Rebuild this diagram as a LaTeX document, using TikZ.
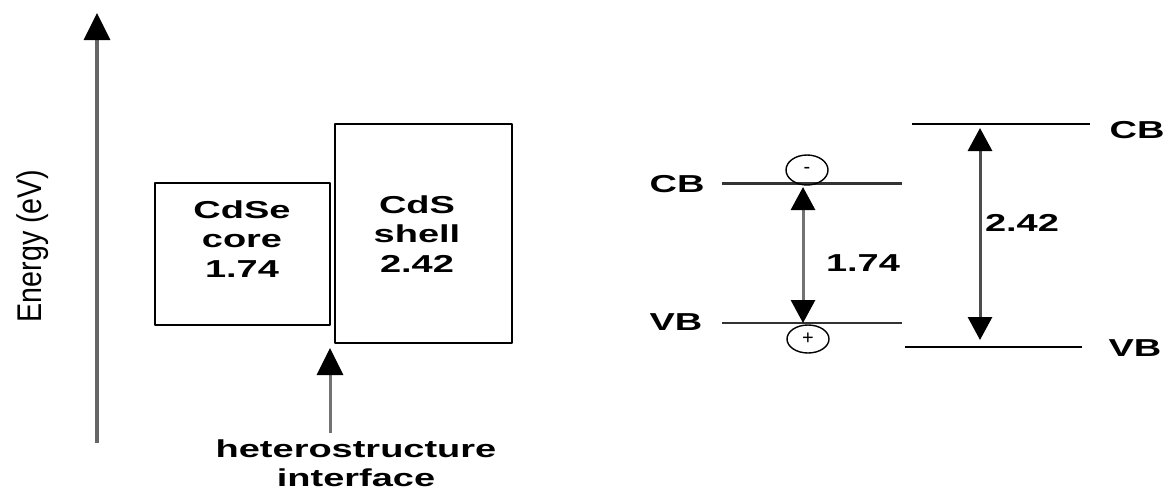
\documentclass[tikz,border=0pt]{standalone}
\usepackage{fontspec}
\newfontfamily\lblfont[FakeStretch=1.55]{Liberation Sans Bold}
\newfontfamily\axisfont{Liberation Sans}
\usetikzlibrary{arrows.meta,shapes.geometric}
\begin{document}
\begin{tikzpicture}[x=1pt,y=-1pt,line join=round,every node/.style={inner sep=0pt},
	lbl/.style={font=\lblfont\fontsize{24.5}{29.5}\selectfont,align=center},
	band/.style={draw=black,line width=1.8pt},
	level/.style={draw=black!80,line width=2.2pt},
	shaft/.style={draw=black!55,line width=3pt},
	tipup/.style={-{Triangle[width=26pt,length=27pt,color=black]}},
	tipboth/.style={{Triangle[width=24pt,length=23pt,color=black]}-{Triangle[width=24pt,length=23pt,color=black]}},
	carrier/.style={ellipse,draw,line width=1.4pt,minimum width=42pt,minimum height=30pt,font=\axisfont\fontsize{20}{20}\selectfont}]
	\useasboundingbox (0,0) rectangle (1172,493);
	% energy axis
	\coordinate (ebot) at (97,443);
	\coordinate (etop) at (97,13);
	\draw[shaft,tipup,draw=black!60,line width=3.5pt] (ebot) -- (etop);
	\node[rotate=90,font=\axisfont\fontsize{24.5}{24.5}\selectfont] (energy) at (33,246) {\scalebox{1.17}[1.4]{Energy (eV)}};
	% core and shell
	\draw[band] (155,183) rectangle (330,325);
	\draw[band] (335,124) rectangle (512,343);
	\node[lbl] (core) at (242,239) {CdSe\\core\\1.74};
	\node[lbl] (shell) at (417,234) {CdS\\shell\\2.42};
	\node[lbl] (iface) at (356,463) {heterostructure\\interface};
	\coordinate (itip) at (330,348);
	\coordinate (ibot) at (330,433);
	\draw[shaft,tipup] (ibot) -- (itip);
	% band levels of the core
	\coordinate (cbA) at (722,183.5); \coordinate (cbB) at (902,183.5);
	\coordinate (vbA) at (722,323); \coordinate (vbB) at (902,323);
	\draw[level] (cbA) -- (cbB);
	\draw[level] (vbA) -- (vbB);
	\node[lbl] (cbcore) at (677,184) {CB};
	\node[lbl] (vbcore) at (676,322) {VB};
	\node[carrier] (elec) at (807,170) {-};
	\node[carrier,minimum height=28pt] (hole) at (808,339) {+};
	\coordinate (gapAtop) at (803,187);
	\coordinate (gapAbot) at (803,323);
	\draw[shaft,tipboth] (gapAtop) -- (gapAbot);
	\node[lbl] (gapcore) at (863,263) {1.74};
	% band levels of the shell
	\coordinate (cbC) at (912,124); \coordinate (cbD) at (1090,124);
	\coordinate (vbC) at (905,347); \coordinate (vbD) at (1082,347);
	\draw[level,draw=black,line width=2pt] (cbC) -- (cbD);
	\draw[level,draw=black,line width=2pt] (vbC) -- (vbD);
	\node[lbl] (cbshell) at (1137,130) {CB};
	\node[lbl] (vbshell) at (1135,348) {VB};
	\coordinate (gapBtop) at (980,128);
	\coordinate (gapBbot) at (980,340);
	\draw[shaft,draw=black!70,tipboth] (gapBtop) -- (gapBbot);
	\node[lbl] (gapshell) at (1022,223) {2.42};
\end{tikzpicture}
\end{document}
